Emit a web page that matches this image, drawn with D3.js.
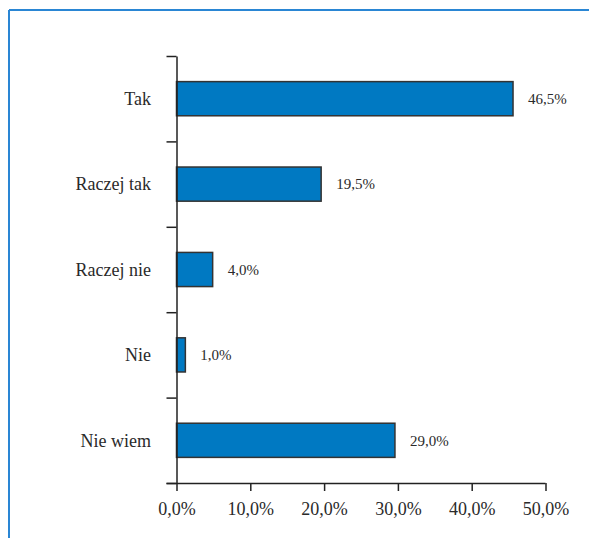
<!DOCTYPE html>
<html>
<head>
<meta charset="utf-8">
<script src="https://cdn.jsdelivr.net/npm/d3@7"></script>
<style>
  html, body { margin: 0; padding: 0; background: #fff; }
  svg { display: block; }
</style>
</head>
<body>
<svg id="chart" width="589" height="538"></svg>
<script>
const categories = ["Tak", "Raczej tak", "Raczej nie", "Nie", "Nie wiem"];
// bar lengths as drawn in the picture (percent)
const barValues = [45.6, 19.6, 4.9, 1.2, 29.6];
// printed value labels
const valueLabels = ["46,5%", "19,5%", "4,0%", "1,0%", "29,0%"];
const xTicks = [0, 10, 20, 30, 40, 50];

(function () {
const svg = d3.select("#chart");
const serif = "Liberation Serif, Times New Roman, serif";

// frame (top and left blue lines)
svg.append("line").attr("x1", 9).attr("x2", 589).attr("y1", 10).attr("y2", 10)
  .attr("stroke", "#2a86d4").attr("stroke-width", 2);
svg.append("line").attr("x1", 9).attr("x2", 9).attr("y1", 10).attr("y2", 538)
  .attr("stroke", "#2a86d4").attr("stroke-width", 2);

const pLeft = 176.5, pRight = 545.5, pTop = 56, pBottom = 483;
const x = d3.scaleLinear().domain([0, 50]).range([pLeft, pRight]);
const y = d3.scaleBand().domain(categories).range([pTop, pBottom]).paddingInner(0.6).paddingOuter(0.3);
const yb = d3.scaleLinear().domain([0, categories.length]).range([pTop, pBottom]);

// bars
svg.append("g").selectAll("rect").data(categories).join("rect")
  .attr("x", x(0))
  .attr("y", d => y(d))
  .attr("width", (d, i) => x(barValues[i]) - x(0))
  .attr("height", y.bandwidth())
  .attr("fill", "#0079c2")
  .attr("stroke", "#333")
  .attr("stroke-width", 1.5);

// value labels
svg.append("g").selectAll("text").data(categories).join("text")
  .attr("x", (d, i) => x(barValues[i]) + 15)
  .attr("y", d => y(d) + y.bandwidth() / 2)
  .attr("dy", "0.35em")
  .style("font-family", serif)
  .attr("font-size", 15)
  .attr("fill", "#2a2a2a")
  .text((d, i) => valueLabels[i]);

// y axis (category boundaries)
const yAxis = svg.append("g").attr("transform", `translate(${pLeft},0)`)
  .call(d3.axisLeft(yb).ticks(categories.length).tickSize(10).tickSizeOuter(0).tickFormat(""));
yAxis.selectAll("path, line").attr("stroke", "#222").attr("stroke-width", 1.5);

// category labels
svg.append("g").selectAll("text").data(categories).join("text")
  .attr("x", 151)
  .attr("y", d => y(d) + y.bandwidth() / 2)
  .attr("dy", "0.35em")
  .attr("text-anchor", "end")
  .style("font-family", serif)
  .attr("font-size", 18)
  .attr("fill", "#2a2a2a")
  .text(d => d);

// x axis
const fmt = v => v.toFixed(1).replace(".", ",") + "%";
const xAxis = svg.append("g").attr("transform", `translate(0,${pBottom})`)
  .call(d3.axisBottom(x).tickValues(xTicks).tickSize(8).tickSizeOuter(0).tickFormat(fmt));
xAxis.selectAll("path, line").attr("stroke", "#222").attr("stroke-width", 1.5);
xAxis.select(".domain").attr("d", `M${pLeft - 10},0.5H${pRight}`);
xAxis.selectAll("text")
  .style("font-family", serif)
  .attr("font-size", 18)
  .attr("fill", "#2a2a2a")
  .attr("y", 19)
  .attr("dy", "0.71em");
})();
</script>
</body>
</html>
